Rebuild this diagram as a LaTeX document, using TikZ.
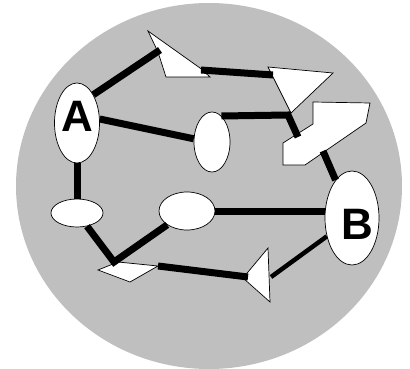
\documentclass[tikz,border=0pt]{standalone}
\usepackage{fontspec}
\setmainfont{Liberation Sans}
\usetikzlibrary{shapes.geometric}

\begin{document}
\begin{tikzpicture}[x=1pt,y=-1pt,
    blob/.style={ellipse,draw=black,fill=white,line width=.7pt,inner sep=0pt},
    piece/.style={draw=black,fill=white,line width=.7pt},
    link/.style={line width=7pt},
    letter/.style={font=\fontsize{44}{44}\selectfont\bfseries,inner sep=0pt}]
    \useasboundingbox (0,0) rectangle (410,369);
    \fill[black!25] (209,186) ellipse [x radius=193pt, y radius=183pt];
    % white pieces
    \draw[piece] (148,31) -- (200,68) -- (210,77) -- (166,77) -- (158,52) -- cycle;
    \draw[piece] (268,67) -- (333,73) -- (291,113) -- cycle;
    \draw[piece] (313,102) -- (370,103) -- (366,123) -- (305,165) -- (283,165) -- (283,143) -- (313,124) -- cycle;
    \draw[piece] (98,270) -- (118,262) -- (158,266) -- (130,282) -- cycle;
    \draw[piece] (268,248) -- (270,302) -- (243,278) -- cycle;
    % ellipses
    \node[blob,minimum width=45pt,minimum height=80pt] (A) at (77,123) {};
    \node[blob,minimum width=54pt,minimum height=94pt] (B) at (352,218) {};
    \node[blob,minimum width=36pt,minimum height=60pt] (mid) at (212,142) {};
    \node[blob,minimum width=52pt,minimum height=28pt] (left) at (77,213) {};
    \node[blob,minimum width=56pt,minimum height=38pt] (low) at (187,211) {};
    % link ends on the pieces
    \coordinate (p1) at (160,50);
    \coordinate (p2) at (201,70);
    \coordinate (p3) at (273,75);
    \coordinate (bend) at (288,115);
    \coordinate (p4) at (298,137);
    \coordinate (p5) at (323,151);
    \coordinate (d1) at (114,262);
    \coordinate (d2) at (158,266);
    \coordinate (t1) at (248,277);
    \coordinate (t2) at (271,277);
    % links
    \draw[link] (A.60) -- (p1);
    \draw[link] (p2) -- (p3);
    \draw[link] (A.10) -- (mid.170);
    \draw[link] (mid.70) -- (bend) -- (p4);
    \draw[link] (p5) -- (B);
    \draw[link] (A) -- (left);
    \draw[link] (left) -- (d1) -- (low);
    \draw[link] (low.east) -- (low.east -| B.west);
    \draw[link] (d2) -- (t1);
    \draw[link,line width=4.5pt] (t2) -- (B);
    % letters
    \node[letter] (labA) at (77,116) {A};
    \node[letter] (labB) at (357,224) {B};
\end{tikzpicture}
\end{document}
